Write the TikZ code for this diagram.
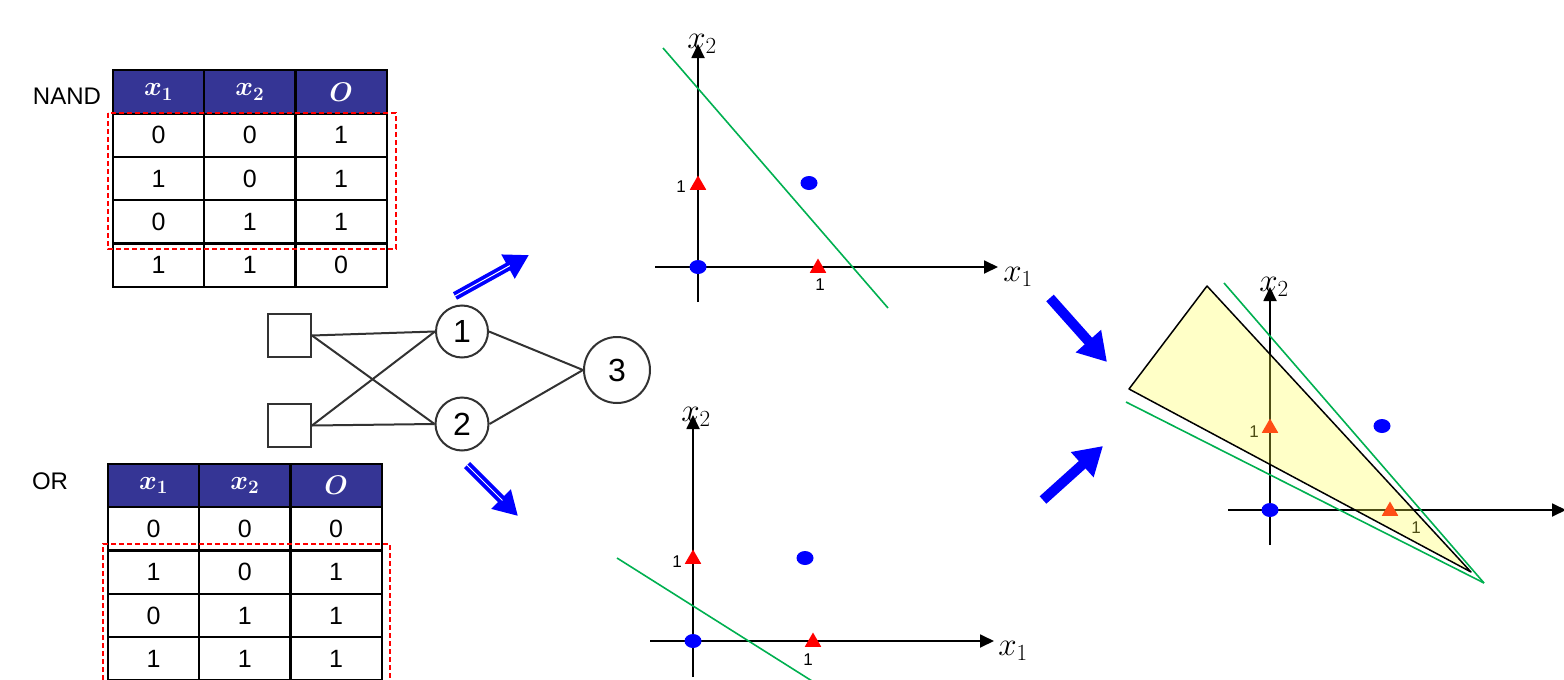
\RequirePackage{fix-cm}
\documentclass[tikz,border=0pt]{standalone}
\usepackage{fontspec}
\setmainfont{Liberation Sans}
\usepackage{bm}
\usetikzlibrary{positioning, arrows.meta, shapes.geometric}

\definecolor{headblue}{RGB}{53,53,149}
\definecolor{sepgreen}{RGB}{0,176,80}
\definecolor{netgray}{RGB}{50,50,50}
\definecolor{regionyellow}{RGB}{255,255,70}

\tikzstyle{cell} = [draw=black, line width=2.2pt, minimum width=91.3pt, minimum height=43.3pt, inner sep=0pt, outer sep=0pt, font=\fontsize{25}{28}\selectfont]
\tikzstyle{head} = [cell, fill=headblue, text=white, font=\fontsize{27}{30}\selectfont]
\tikzstyle{gate} = [font=\fontsize{24}{27}\selectfont]
\tikzstyle{select} = [draw=red, line width=1.5pt, dash pattern=on 5pt off 3pt]
\tikzstyle{input} = [rectangle, draw=netgray, line width=2pt, minimum size=43pt, inner sep=0pt]
\tikzstyle{neuron} = [circle, draw=netgray, line width=2pt, inner sep=0pt, font=\fontsize{32}{35}\selectfont]
\tikzstyle{wire} = [draw=netgray, line width=2pt]
\tikzstyle{axis} = [line width=1.8pt, -{Triangle[length=14pt, width=13pt]}]
\tikzstyle{zero} = [ellipse, fill=blue, minimum width=17pt, minimum height=14pt, inner sep=0pt]
\tikzstyle{one} = [regular polygon, regular polygon sides=3, fill=red, minimum size=19pt, inner sep=0pt]
\tikzstyle{tick} = [font=\fontsize{17}{20}\selectfont, inner sep=0pt]
\tikzstyle{axlabel} = [font=\fontsize{33}{35}\selectfont, inner sep=0pt]
\tikzstyle{boundary} = [draw=sepgreen, line width=1.6pt]
\tikzstyle{hollowarrow} = [draw=blue, line width=8.5pt, -{Triangle[length=24pt, width=26pt]}]
\tikzstyle{fatarrow} = [draw=blue, line width=10pt, -{Triangle[length=28pt, width=32pt]}]

\begin{document}
\begin{tikzpicture}[x=1pt, y=-1pt]
\useasboundingbox (0,0) rectangle (1564,680);

% truth tables
\node (NAND) [gate] at (67,96) {NAND};
\node (nandHead1) [head] at (158.5,92) {$\bm{x_1}$};
\node (nandHead2) [head, right=0pt of nandHead1] {$\bm{x_2}$};
\node (nandHead3) [head, right=0pt of nandHead2] {$\bm{O}$};
\foreach \a/\b/\o [count=\r] in {0/0/1, 1/0/1, 0/1/1, 1/1/0} {
  \node (nand\r a) [cell] at (158.5, {92+43.3*\r}) {\a};
  \node (nand\r b) [cell, right=0pt of nand\r a] {\b};
  \node (nand\r o) [cell, right=0pt of nand\r b] {\o};
}
\draw [select] (108,113) rectangle (396,249);

\node (OR) [gate] at (50,481) {OR};
\node (orHead1) [head] at (153.5,485.5) {$\bm{x_1}$};
\node (orHead2) [head, right=0pt of orHead1] {$\bm{x_2}$};
\node (orHead3) [head, right=0pt of orHead2] {$\bm{O}$};
\foreach \a/\b/\o [count=\r] in {0/0/0, 1/0/1, 0/1/1, 1/1/1} {
  \node (or\r a) [cell] at (153.5, {485.5+43.3*\r}) {\a};
  \node (or\r b) [cell, right=0pt of or\r a] {\b};
  \node (or\r o) [cell, right=0pt of or\r b] {\o};
}
\draw [select] (103,680) |- (390,544) -- (390,680);

% network
\node (IN1) [input] at (289.5,335.5) {};
\node (IN2) [input, below=45pt of IN1] {};
\node (H1) [neuron, minimum size=52pt] at (462,331.5) {1};
\node (H2) [neuron, minimum size=53pt] at (462,424) {2};
\node (OUT) [neuron, minimum size=66pt] at (617,370) {3};

\draw [wire] (IN1.east) -- (H1.west);
\draw [wire] (IN1.east) -- (H2.west);
\draw [wire] (IN2.east) -- (H1.west);
\draw [wire] (IN2.east) -- (H2.west);
\draw [wire] (H1.east) -- (OUT.west);
\draw [wire] (H2.east) -- (OUT.west);

% arrows
\coordinate (upTail) at (455,296);
\coordinate (upTip) at (529,255);
\coordinate (downTail) at (467,465);
\coordinate (downTip) at (518,516);
\draw [hollowarrow] (upTail) -- (upTip);
\draw [white, line width=1pt, shorten >=22pt] (upTail) -- (upTip);
\draw [hollowarrow] (downTail) -- (downTip);
\draw [white, line width=1pt, shorten >=22pt] (downTail) -- (downTip);

\coordinate (nandOut) at (1050,298);
\coordinate (mergeTop) at (1107,362);
\coordinate (orOut) at (1043,500);
\coordinate (mergeBottom) at (1103,446);
\draw [fatarrow] (nandOut) -- (mergeTop);
\draw [fatarrow] (orOut) -- (mergeBottom);

% NAND plane
\coordinate (nandXs) at (655,267);
\coordinate (nandXe) at (998,267);
\coordinate (nandYs) at (698,302);
\coordinate (nandYe) at (698,44);
\draw [axis] (nandXs) -- (nandXe);
\draw [axis] (nandYs) -- (nandYe);
\node (nandX2) [axlabel] at (702,44) {$x_2$};
\node (nandX1) [axlabel] at (1018,277) {$x_1$};
\node (nandP00) [zero] at (698,267) {};
\node (nandP11) [zero] at (809,183) {};
\node (nandP10) [one] at (818,268) {};
\node (nandP01) [one] at (698,185) {};
\node (nandT1) [tick] at (820,285) {1};
\node (nandT2) [tick] at (681,187) {1};
\coordinate (nandLs) at (663,48);
\coordinate (nandLe) at (888,308);
\draw [boundary] (nandLs) -- (nandLe);

% OR plane
\coordinate (orXs) at (650,641);
\coordinate (orXe) at (994,641);
\coordinate (orYs) at (693,677);
\coordinate (orYe) at (693,415);
\draw [axis] (orXs) -- (orXe);
\draw [axis] (orYs) -- (orYe);
\node (orX2) [axlabel] at (696,417) {$x_2$};
\node (orX1) [axlabel] at (1013,651) {$x_1$};
\node (orP00) [zero] at (693,641) {};
\node (orP11) [zero] at (805,558) {};
\node (orP10) [one] at (813,642) {};
\node (orP01) [one] at (693,559) {};
\node (orT1) [tick] at (808,660) {1};
\node (orT2) [tick] at (677,562) {1};
\coordinate (orLs) at (617,558);
\coordinate (orLe) at (812,681);
\draw [boundary] (orLs) -- (orLe);

% XOR plane
\coordinate (xorXs) at (1228,510);
\coordinate (xorXe) at (1566,510);
\coordinate (xorYs) at (1270,545);
\coordinate (xorYe) at (1270,287);
\draw [axis] (xorXs) -- (xorXe);
\draw [axis] (xorYs) -- (xorYe);
\node (xorX2) [axlabel] at (1274,287) {$x_2$};
\node (xorP00) [zero] at (1270,510) {};
\node (xorP11) [zero] at (1382,426) {};
\node (xorP10) [one] at (1390,511) {};
\node (xorP01) [one] at (1270,428) {};
\node (xorT1) [tick] at (1416,528) {1};
\node (xorT2) [tick] at (1254,432) {1};
\coordinate (regionA) at (1207,286);
\coordinate (regionB) at (1129,389);
\coordinate (regionC) at (1471,572);
\fill [regionyellow, fill opacity=0.3] (regionA) -- (regionB) -- (regionC) -- cycle;
\draw [line width=1.5pt, line join=round] (regionA) -- (regionB) -- (regionC) -- cycle;
\coordinate (xorApex) at (1484,583);
\coordinate (xorL1) at (1224,283);
\coordinate (xorL2) at (1126,402);
\draw [boundary] (xorL1) -- (xorApex);
\draw [boundary] (xorL2) -- (xorApex);

\end{tikzpicture}
\end{document}
